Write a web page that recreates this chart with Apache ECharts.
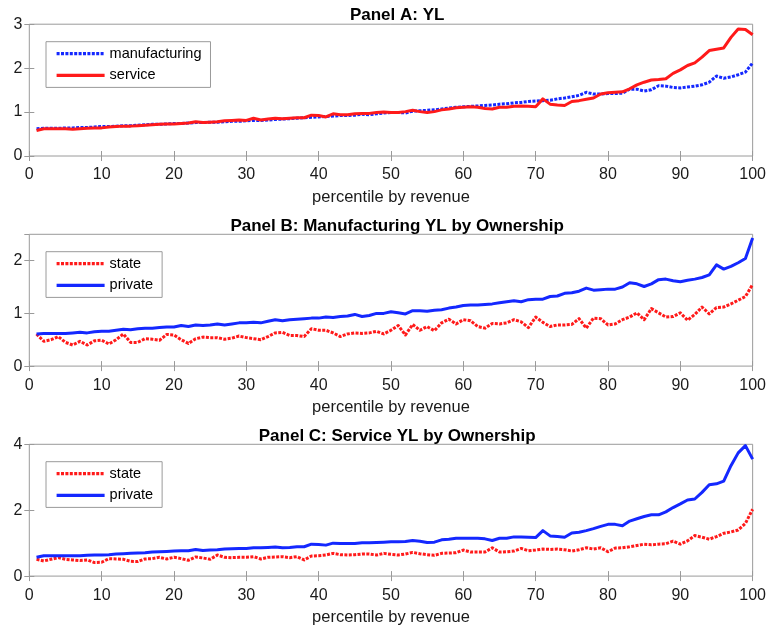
<!DOCTYPE html>
<html>
<head>
<meta charset="utf-8">
<title>YL by revenue percentile</title>
<script src="https://cdn.jsdelivr.net/npm/echarts@6/dist/echarts.min.js"></script>
<style>
  html, body { margin: 0; padding: 0; background: #fff; }
  #chart { width: 769px; height: 632px; }
</style>
</head>
<body>
<div id="chart"></div>
<script>
// Revenue percentiles (x values shared by every panel)
const percentiles = [
  1,2,3,4,5,6,7,8,9,10,11,12,13,14,15,16,17,18,19,20,
  21,22,23,24,25,26,27,28,29,30,31,32,33,34,35,36,37,38,39,40,
  41,42,43,44,45,46,47,48,49,50,51,52,53,54,55,56,57,58,59,60,
  61,62,63,64,65,66,67,68,69,70,71,72,73,74,75,76,77,78,79,80,
  81,82,83,84,85,86,87,88,89,90,91,92,93,94,95,96,97,98,99,100
];

// Panel A: YL by sector
const manufacturingYL = [
  0.62,0.63,0.63,0.63,0.64,0.64,0.65,0.65,0.66,0.67,
  0.67,0.68,0.69,0.69,0.70,0.71,0.72,0.72,0.73,0.74,
  0.74,0.75,0.76,0.76,0.77,0.77,0.78,0.79,0.79,0.80,
  0.81,0.81,0.82,0.83,0.84,0.85,0.86,0.87,0.88,0.89,
  0.90,0.91,0.92,0.92,0.93,0.95,0.94,0.96,0.98,0.99,
  0.99,0.98,1.02,1.03,1.04,1.05,1.07,1.09,1.11,1.12,
  1.13,1.14,1.15,1.16,1.18,1.19,1.21,1.22,1.24,1.25,
  1.26,1.27,1.30,1.32,1.35,1.38,1.45,1.41,1.41,1.42,
  1.42,1.43,1.52,1.52,1.48,1.51,1.60,1.59,1.56,1.55,
  1.57,1.59,1.62,1.68,1.82,1.77,1.80,1.85,1.91,2.12
];
const serviceYL = [
  0.58,0.62,0.62,0.62,0.62,0.61,0.62,0.63,0.64,0.64,
  0.66,0.67,0.68,0.68,0.69,0.70,0.71,0.72,0.73,0.73,
  0.74,0.75,0.78,0.76,0.77,0.78,0.80,0.81,0.82,0.81,
  0.86,0.82,0.84,0.86,0.85,0.86,0.87,0.87,0.93,0.92,
  0.89,0.96,0.94,0.94,0.96,0.97,0.97,0.99,1.00,0.99,
  0.99,1.01,1.04,1.01,0.99,1.01,1.05,1.07,1.10,1.11,
  1.12,1.11,1.08,1.07,1.11,1.11,1.13,1.14,1.13,1.12,
  1.30,1.18,1.16,1.15,1.24,1.26,1.29,1.32,1.41,1.44,
  1.45,1.46,1.53,1.62,1.68,1.73,1.74,1.76,1.88,1.96,
  2.06,2.12,2.25,2.40,2.43,2.46,2.70,2.89,2.88,2.76
];

// Panel B: manufacturing YL by ownership
const mfgStateYL = [
  0.61,0.47,0.50,0.56,0.45,0.40,0.47,0.40,0.48,0.49,
  0.42,0.50,0.61,0.45,0.45,0.52,0.51,0.49,0.60,0.59,
  0.50,0.43,0.52,0.55,0.54,0.54,0.51,0.53,0.57,0.54,
  0.52,0.50,0.56,0.63,0.64,0.58,0.58,0.56,0.71,0.68,
  0.68,0.63,0.56,0.61,0.63,0.62,0.63,0.66,0.61,0.68,
  0.77,0.59,0.79,0.68,0.75,0.67,0.82,0.89,0.80,0.88,
  0.86,0.75,0.72,0.81,0.80,0.82,0.88,0.84,0.73,0.93,
  0.83,0.75,0.78,0.78,0.79,0.90,0.72,0.91,0.90,0.78,
  0.80,0.88,0.93,1.01,0.88,1.09,1.01,0.93,0.94,1.01,
  0.87,0.98,1.12,0.99,1.11,1.12,1.18,1.25,1.32,1.55
];
const mfgPrivateYL = [
  0.61,0.62,0.62,0.62,0.62,0.63,0.64,0.63,0.65,0.66,
  0.66,0.68,0.70,0.69,0.71,0.72,0.72,0.73,0.74,0.74,
  0.77,0.75,0.78,0.77,0.78,0.80,0.78,0.80,0.82,0.82,
  0.83,0.82,0.85,0.88,0.86,0.88,0.89,0.90,0.91,0.91,
  0.93,0.92,0.94,0.95,0.98,0.94,0.96,1.00,1.00,1.03,
  1.01,0.99,1.05,1.05,1.04,1.06,1.07,1.10,1.12,1.15,
  1.16,1.16,1.17,1.18,1.20,1.22,1.24,1.22,1.26,1.27,
  1.27,1.32,1.33,1.38,1.39,1.42,1.48,1.44,1.45,1.46,
  1.46,1.50,1.58,1.56,1.51,1.56,1.64,1.65,1.62,1.60,
  1.63,1.65,1.68,1.73,1.92,1.84,1.89,1.96,2.04,2.43
];

// Panel C: service YL by ownership
const svcStateYL = [
  0.51,0.46,0.51,0.56,0.51,0.49,0.47,0.49,0.41,0.42,
  0.53,0.52,0.51,0.45,0.44,0.52,0.53,0.57,0.52,0.57,
  0.53,0.48,0.58,0.55,0.51,0.64,0.57,0.56,0.57,0.57,
  0.59,0.52,0.57,0.58,0.59,0.56,0.59,0.49,0.61,0.62,
  0.64,0.69,0.65,0.64,0.65,0.67,0.67,0.64,0.69,0.66,
  0.64,0.67,0.72,0.68,0.65,0.63,0.69,0.70,0.71,0.79,
  0.73,0.73,0.73,0.86,0.73,0.74,0.76,0.84,0.77,0.79,
  0.82,0.81,0.82,0.80,0.76,0.80,0.86,0.82,0.86,0.74,
  0.85,0.86,0.89,0.93,0.97,0.95,0.97,0.98,1.06,0.97,
  1.07,1.23,1.18,1.12,1.20,1.30,1.34,1.40,1.60,2.03
];
const svcPrivateYL = [
  0.57,0.62,0.62,0.62,0.62,0.62,0.62,0.63,0.64,0.64,
  0.65,0.67,0.68,0.69,0.70,0.71,0.73,0.74,0.75,0.76,
  0.77,0.77,0.81,0.78,0.79,0.80,0.82,0.83,0.84,0.84,
  0.86,0.86,0.87,0.88,0.86,0.87,0.89,0.89,0.97,0.96,
  0.94,1.00,0.99,0.99,0.99,1.01,1.01,1.02,1.03,1.04,
  1.04,1.05,1.08,1.06,1.02,1.03,1.10,1.12,1.15,1.15,
  1.15,1.15,1.13,1.08,1.15,1.15,1.19,1.19,1.18,1.17,
  1.38,1.22,1.20,1.18,1.31,1.33,1.38,1.44,1.51,1.57,
  1.57,1.53,1.67,1.74,1.81,1.86,1.86,1.95,2.08,2.19,
  2.31,2.34,2.54,2.77,2.80,2.88,3.35,3.74,3.96,3.55
];

// Axis ticks
const xTicks = { min: 0, max: 100, interval: 10 };
const yTicksA = { min: 0, max: 3, interval: 1 };
const yTicksB = { min: 0, max: 2.5, interval: 1 };
const yTicksC = { min: 0, max: 4, interval: 2 };

const panelTitles = ['Panel A: YL', 'Panel B: Manufacturing YL by Ownership', 'Panel C: Service YL by Ownership'];
const xAxisName = 'percentile by revenue';

// ---- styling ----
const FONT = '"Liberation Sans", Arial, Helvetica, sans-serif';
const BLUE = '#1428ff';
const RED = '#ff1a1a';
const FRAME = '#9a9a9a';
const LEFT = 29.3, RIGHT = 14, PLOT_H = 131.8;
const panelTops = [24.2, 234.3, 444.3];
const plotCenter = LEFT + (769 - LEFT - RIGHT) / 2;

function pairs(ys) { return percentiles.map((p, i) => [p, ys[i]]); }

const grids = panelTops.map(t => ({
  left: LEFT, right: RIGHT, top: t, height: PLOT_H,
  show: true, borderColor: FRAME, borderWidth: 1, backgroundColor: '#fff'
}));

const xAxes = [], yAxes = [];
[yTicksA, yTicksB, yTicksC].forEach((yt, g) => {
  xAxes.push({
    type: 'value', gridIndex: g, min: xTicks.min, max: xTicks.max, interval: xTicks.interval,
    position: 'bottom',
    name: xAxisName, nameLocation: 'middle', nameGap: 33,
    nameTextStyle: { fontFamily: FONT, fontSize: 16.5, color: '#1a1a1a' },
    axisLine: { show: false },
    axisTick: { show: true, inside: true, length: 5, lineStyle: { color: FRAME } },
    axisLabel: { margin: 11, fontFamily: FONT, fontSize: 16, color: '#1a1a1a' },
    splitLine: { show: false }
  });
  xAxes.push({
    type: 'value', gridIndex: g, min: xTicks.min, max: xTicks.max, interval: xTicks.interval,
    position: 'top',
    axisLine: { show: false },
    axisTick: { show: true, inside: true, length: 5, lineStyle: { color: FRAME } },
    axisLabel: { show: false }, splitLine: { show: false }
  });
  yAxes.push({
    type: 'value', gridIndex: g, min: yt.min, max: yt.max, interval: yt.interval,
    position: 'left',
    axisLine: { show: false },
    axisTick: { show: true, inside: true, length: 5, lineStyle: { color: FRAME } },
    axisLabel: { margin: 7, fontFamily: FONT, fontSize: 16, color: '#1a1a1a', showMaxLabel: Number.isInteger(yt.max / yt.interval) },
    splitLine: { show: false }
  });
  yAxes.push({
    type: 'value', gridIndex: g, min: yt.min, max: yt.max, interval: yt.interval,
    position: 'right',
    axisLine: { show: false },
    axisTick: { show: true, inside: true, length: 5, lineStyle: { color: FRAME } },
    axisLabel: { show: false }, splitLine: { show: false }
  });
});

function line(name, g, ys, color, dashed) {
  return {
    type: 'line', name: name, xAxisIndex: g * 2, yAxisIndex: g * 2,
    data: pairs(ys), symbol: 'none', showSymbol: false, animation: false,
    lineStyle: { color: color, width: 3, type: dashed ? [3, 1.4] : 'solid', cap: 'butt', join: 'round' },
    itemStyle: { color: color }
  };
}

const series = [
  line('manufacturing', 0, manufacturingYL, BLUE, true),
  line('service', 0, serviceYL, RED, false),
  line('state', 1, mfgStateYL, RED, true),
  line('private', 1, mfgPrivateYL, BLUE, false),
  line('state', 2, svcStateYL, RED, true),
  line('private', 2, svcPrivateYL, BLUE, false)
];

// Legend keys show only the line sample, no point marker
const legendBase = {
  orient: 'vertical', left: 46, itemWidth: 48, itemHeight: 14, itemGap: 5.7,
  padding: [4, 9, 4, 9], borderColor: FRAME, borderWidth: 1, backgroundColor: '#fff',
  selectedMode: false,
  itemStyle: { color: 'rgba(0,0,0,0)', borderColor: 'rgba(0,0,0,0)', borderWidth: 0 },
  lineStyle: { width: 3.2 },
  textStyle: { fontFamily: FONT, fontSize: 14.5, color: '#000', lineHeight: 16, padding: [0, 0, 0, 0] }
};
const legends = [
  Object.assign({}, legendBase, { top: 41.7, data: ['manufacturing', 'service'] }),
  Object.assign({}, legendBase, { top: 251.7, data: ['state', 'private'] }),
  Object.assign({}, legendBase, { top: 461.7, data: ['state', 'private'] })
];

const titles = panelTitles.map((t, i) => ({
  text: t, left: plotCenter, textAlign: 'center', top: [2, 213, 423][i],
  textStyle: { fontFamily: FONT, fontSize: 17, fontWeight: 'bold', color: '#000' }
}));

const chart = echarts.init(document.getElementById('chart'), null, { renderer: 'canvas' });
chart.setOption({
  animation: false,
  backgroundColor: '#fff',
  title: titles,
  legend: legends,
  grid: grids,
  xAxis: xAxes,
  yAxis: yAxes,
  series: series
});
</script>
</body>
</html>
